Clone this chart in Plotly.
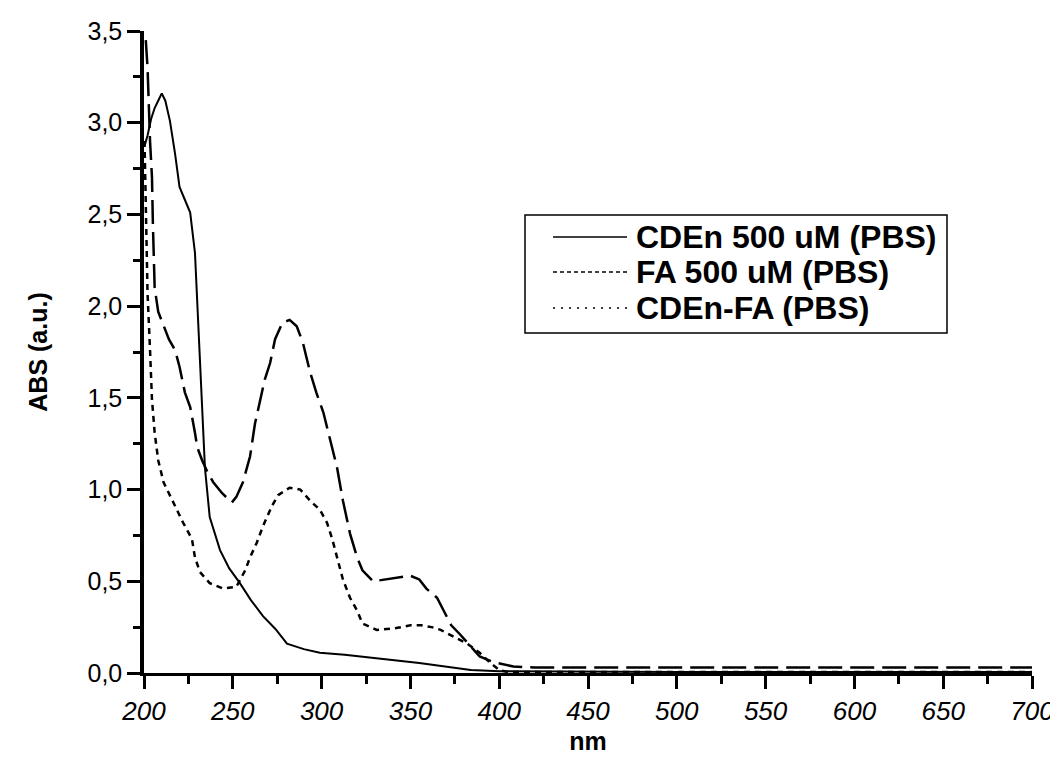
import plotly.graph_objects as go

# ---- data ----
cden_x = [200.5, 202, 204, 206, 208, 210, 212, 214.6, 217.5, 220, 223, 226, 228.7, 230.4, 232.7,
          234.3, 237, 242.8, 248, 254, 260, 267, 274, 280.5, 290, 299, 313, 327, 341, 355, 370,
          384, 400, 430, 500, 600, 700]
cden_y = [2.88, 2.93, 3.02, 3.08, 3.12, 3.16, 3.12, 3.01, 2.83, 2.65, 2.58, 2.51, 2.29, 1.94, 1.40,
          1.12, 0.85, 0.67, 0.57, 0.49, 0.40, 0.31, 0.24, 0.16, 0.13, 0.11, 0.10, 0.087, 0.07, 0.055, 0.035,
          0.016, 0.01, 0.008, 0.006, 0.005, 0.005]

fa_x = [201, 202, 203.4, 204.5, 205, 206, 208, 211, 214, 217.5, 220, 223, 226, 228.7, 230, 232.7,
        236, 239, 244, 249.5, 252, 255.7, 259.7, 262.5, 268, 271, 273.8, 278, 282, 286, 289.5, 293.5,
        297, 301, 305, 308.7, 312, 316, 320, 323, 329, 337, 344, 350, 355, 359, 365, 373, 378, 389,
        396.5, 408, 420, 450, 500, 550, 600, 650, 700]
fa_y = [3.45, 3.3, 2.9, 2.7, 2.45, 2.1, 1.97, 1.89, 1.82, 1.76, 1.67, 1.53, 1.45, 1.31, 1.23, 1.16,
        1.09, 1.04, 0.98, 0.93, 0.96, 1.04, 1.18, 1.36, 1.6, 1.69, 1.82, 1.91, 1.925, 1.89, 1.80, 1.64,
        1.53, 1.42, 1.27, 1.12, 0.94, 0.76, 0.63, 0.56, 0.50, 0.51, 0.52, 0.53, 0.51, 0.46, 0.41, 0.26,
        0.21, 0.09, 0.06, 0.035, 0.03, 0.03, 0.03, 0.03, 0.03, 0.03, 0.03]

cdenfa_x = [200.3, 201.5, 202, 203.4, 204.5, 206, 208, 211, 216.5, 222, 227, 228.7, 231.5, 237, 244.5,
            252, 257, 259.7, 263.5, 267, 272, 275.5, 282, 288, 293.5, 299, 303, 306, 309, 312, 316,
            320, 323, 331, 342, 350, 356, 362, 367, 374, 382, 389, 395, 400, 405, 450, 550, 700]
cdenfa_y = [2.9, 2.2, 2.07, 1.76, 1.49, 1.31, 1.16, 1.04, 0.93, 0.82, 0.73, 0.63, 0.55, 0.49, 0.46,
            0.47, 0.56, 0.63, 0.71, 0.80, 0.91, 0.97, 1.01, 1.00, 0.94, 0.89, 0.82, 0.73, 0.62, 0.51, 0.41,
            0.34, 0.27, 0.235, 0.245, 0.26, 0.26, 0.25, 0.235, 0.20, 0.16, 0.11, 0.055, 0.016, 0.005, 0.005,
            0.005, 0.005]

names = ["CDEn 500 uM (PBS)", "FA 500 uM (PBS)", "CDEn-FA (PBS)"]

y_tickvals = [0, 0.5, 1.0, 1.5, 2.0, 2.5, 3.0, 3.5]
y_ticktext = ["0,0", "0,5", "1,0", "1,5", "2,0", "2,5", "3,0", "3,5"]
x_tickvals = [200, 250, 300, 350, 400, 450, 500, 550, 600, 650, 700]

FONT = "Liberation Sans, Arial, sans-serif"
OFF = 8  # page body margin of the html page
W, H = 1058 - OFF, 767 - OFF
# plot area in window pixels: x 144..1032, y 31..673
ML, MT = 144 - OFF, 31 - OFF
MR, MB = W - (1032 - OFF), H - (673 - OFF)
PW, PH = W - ML - MR, H - MT - MB


def px(x):
    return (x - 144) / PW


def py(y):
    return (673 - y) / PH


styles = [dict(color="black", width=2, dash="solid"),
          dict(color="black", width=2.5, dash="24px,8px"),
          dict(color="black", width=2.5, dash="6px,5px")]

fig = go.Figure()
for xs, ys, nm, st in zip([cden_x, fa_x, cdenfa_x], [cden_y, fa_y, cdenfa_y], names, styles):
    fig.add_trace(go.Scatter(x=xs, y=ys, mode="lines", name=nm, line=st, showlegend=False))

# ---- legend box drawn like the original ----
shapes = [dict(type="rect", xref="paper", yref="paper",
               x0=px(525), x1=px(947), y0=py(333), y1=py(215),
               line=dict(color="black", width=1.5), fillcolor="white", layer="below")]
legend_dash = ["solid", "4px,3px", "2px,6px"]
annotations = []
for i, (nm, st) in enumerate(zip(names, styles)):
    yc = [237, 272, 308][i]
    shapes.append(dict(type="line", xref="paper", yref="paper",
                       x0=px(553), x1=px(627), y0=py(yc), y1=py(yc),
                       line=dict(color="black", width=1.5, dash=legend_dash[i])))
    annotations.append(dict(xref="paper", yref="paper", x=px(634), y=py(yc),
                            xanchor="left", yanchor="middle", showarrow=False, text=nm,
                            font=dict(size=32, family=FONT, color="black", weight="bold")))

fig.update_layout(
    width=W, height=H,
    margin=dict(l=ML, r=MR, t=MT, b=MB, autoexpand=False),
    paper_bgcolor="white", plot_bgcolor="white",
    font=dict(family=FONT, color="black"),
    showlegend=False,
    shapes=shapes, annotations=annotations,
)
fig.update_xaxes(
    range=[200, 700], showgrid=False, zeroline=False,
    showline=True, linecolor="black", linewidth=3,
    ticks="outside", ticklen=13, tickwidth=3, tickcolor="black",
    tickvals=x_tickvals,
    tickfont=dict(size=26, family=FONT, style="italic"),
    minor=dict(ticks="outside", ticklen=8, tickwidth=2.5, tickcolor="black", dtick=25),
    title=dict(text="<b>nm</b>", font=dict(size=25, family=FONT), standoff=8),
    automargin=False,
)
fig.update_yaxes(
    range=[0, 3.5], showgrid=False, zeroline=False,
    showline=True, linecolor="black", linewidth=3.5,
    ticks="outside", ticklen=13, tickwidth=3, tickcolor="black",
    tickvals=y_tickvals, ticktext=y_ticktext,
    tickfont=dict(size=25, family=FONT),
    minor=dict(ticks="outside", ticklen=7, tickwidth=2.5, tickcolor="black", dtick=0.25),
    title=dict(text="<b>ABS (a.u.)</b>", font=dict(size=25, family=FONT), standoff=34),
    automargin=False,
)

fig.write_html("out.html")
